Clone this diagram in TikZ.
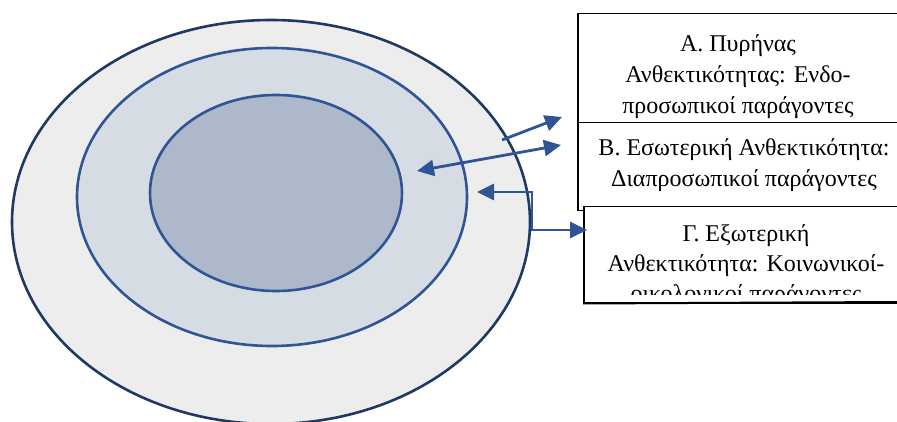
\documentclass[tikz,border=0pt]{standalone}
\usepackage{fontspec}
\setmainfont{Liberation Serif}
\usetikzlibrary{arrows.meta,shapes.geometric}
\definecolor{outerfill}{HTML}{EDEDED}
\definecolor{outerline}{HTML}{1F3864}
\definecolor{midfill}{HTML}{D6DCE4}
\definecolor{innerfill}{HTML}{ADB9CA}
\definecolor{blueline}{HTML}{2F5597}
\begin{document}
\begin{tikzpicture}[x=1pt,y=-1pt,
  ring/.style={ellipse, draw=blueline, line width=2.6pt, inner sep=0pt},
  boxstyle/.style={draw=black, line width=1.5pt, fill=white, inner sep=0pt, anchor=north west},
  label/.style={align=center, font=\fontsize{24}{31}\selectfont, inner sep=0pt},
  conn/.style={draw=blueline, line width=2.8pt, {Triangle[length=17pt,width=16pt]}-{Triangle[length=17pt,width=16pt]}},
  conn1/.style={draw=blueline, line width=2.8pt, -{Triangle[length=17pt,width=16pt]}}]
\useasboundingbox (0,0) rectangle (897,422);
\fill[white] (0,0) rectangle (897,422);
\begin{scope}
\clip (0,0) rectangle (897,422);
% rings
\node[ring, draw=outerline, fill=outerfill, minimum width=518pt, minimum height=404pt] (outer) at (271,222) {};
\node[ring, fill=midfill, minimum width=390pt, minimum height=298pt] (middle) at (272,197) {};
\node[ring, fill=innerfill, minimum width=252pt, minimum height=196pt] (inner) at (276,193) {};
% boxes
\node[boxstyle, minimum width=330pt, minimum height=109pt] (boxA) at (577,13) {};
\node[boxstyle, minimum width=340pt, minimum height=88pt] (boxB) at (577,122) {};
\node[boxstyle, minimum width=330pt, minimum height=96pt] (boxC) at (583,206) {};
% texts
\node[label] (tA) at (738,77) {Α. Πυρήνας\\Ανθεκτικότητας: Ενδο-\\προσωπικοί παράγοντες};
\node[label] (tB) at (744,165) {Β. Εσωτερική Ανθεκτικότητα:\\Διαπροσωπικοί παράγοντες};
\end{scope}
\begin{scope}
\clip (583,206) rectangle (897,294);
\node[label, font=\fontsize{24}{30}\selectfont] (tC) at (746,266) {Γ. Εξωτερική\\Ανθεκτικότητα: Κοινωνικοί-\\οικολογικοί παράγοντες};
\end{scope}
\draw[black, line width=2pt] (boxC.south west) -- (897,302);
% connectors
\coordinate (a1s) at (502,140);
\coordinate (a1e) at (562,117);
\coordinate (a2s) at (417,171);
\coordinate (a2e) at (561,145);
\coordinate (a3s) at (477,192);
\coordinate (a3m) at (532,192);
\coordinate (a3n) at (532,230);
\coordinate (a3e) at (587,230);
\draw[conn1] (a1s) -- (a1e);
\draw[conn] (a2s) -- (a2e);
\draw[conn] (a3s) -- (a3m) -- (a3n) -- (a3e);
\end{tikzpicture}
\end{document}
